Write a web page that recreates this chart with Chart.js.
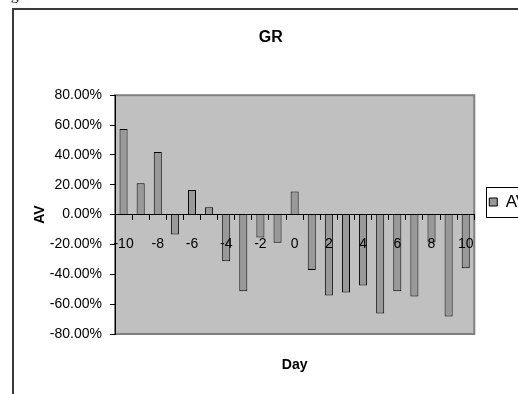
<!DOCTYPE html>
<html lang="en">
<head>
    <meta charset="UTF-8">
    <title>GR</title>
    <script src="https://cdn.jsdelivr.net/npm/chart.js"></script>
    <style>
        html, body { margin: 0; padding: 0; background: #fff; }
        body { width: 518px; height: 394px; overflow: hidden; position: relative; }
        .frame { position: absolute; left: 12px; top: 8px; width: 620px; height: 500px;
                 border-left: 2px solid #3a3a3a; border-top: 2px solid #3a3a3a; }
        .cut { position: absolute; left: 11px; top: -13px; font: 15px 'Liberation Serif', serif; }
        #grafico { position: absolute; left: 0; top: 0; }
    </style>
</head>
<body>
    <div class="cut">g</div>
    <div class="frame"></div>
    <canvas id="grafico" width="545" height="394"></canvas>
<script>
    // dias em torno do evento
    var days = ['-10', '-9', '-8', '-7', '-6', '-5', '-4', '-3', '-2', '-1', '0',
                '1', '2', '3', '4', '5', '6', '7', '8', '9', '10'];
    // AV em %
    var avValues = [57.3, 21.0, 42.0, -13.4, 16.5, 4.9, -31.2, -51.3, -15.4, -18.9, 15.4,
                    -37.2, -54.2, -52.2, -47.5, -66.2, -51.3, -54.8, -18.7, -68.2, -35.9];
    var yMin = -80, yMax = 80, yStep = 20;

    Chart.defaults.font.family = "'Liberation Sans', Arial, sans-serif";
    Chart.defaults.color = '#000';

    var plotBg = {
        id: 'plotBg',
        beforeDraw: function (chart) {
            var a = chart.chartArea, ctx = chart.ctx;
            ctx.save();
            ctx.fillStyle = '#c0c0c0';
            ctx.fillRect(a.left, a.top, a.right - a.left, a.bottom - a.top);
            ctx.strokeStyle = '#808080';
            ctx.lineWidth = 2;
            ctx.strokeRect(a.left, a.top, a.right - a.left, a.bottom - a.top);
            ctx.restore();
        },
        afterDraw: function (chart) {
            var hb = chart.legend.legendHitBoxes[0];
            if (!hb) return;
            var ctx = chart.ctx;
            var cy = hb.top + hb.height / 2;
            ctx.save();
            ctx.strokeStyle = '#000';
            ctx.lineWidth = 1;
            ctx.strokeRect(Math.round(hb.left - 3) + 0.5, Math.round(cy - 15) + 0.5, 120, 30);
            ctx.restore();
        }
    };

    new Chart(document.getElementById('grafico'), {
        type: 'bar',
        data: {
            labels: days,
            datasets: [{
                label: 'AV',
                data: avValues,
                backgroundColor: '#999999',
                borderColor: '#000',
                borderWidth: 1,
                barPercentage: 0.47,
                categoryPercentage: 1
            }]
        },
        options: {
            responsive: false,
            animation: false,
            devicePixelRatio: 1,
            layout: { padding: { left: 4.2, right: 7.8, top: 10, bottom: 0 } },
            scales: {
                x: {
                    position: { y: 0 },
                    offset: true,
                    grid: { display: true, drawOnChartArea: false, offset: true, color: '#000', tickLength: 5, z: 1 },
                    border: { color: '#000', width: 1, z: 1 },
                    ticks: {
                        z: 1,
                        autoSkip: false,
                        maxRotation: 0,
                        padding: 16.6,
                        font: { size: 14 },
                        callback: function (v, i) {
                            return Number(days[i]) % 2 === 0 ? days[i] : '';
                        }
                    }
                },
                y: {
                    min: yMin,
                    max: yMax,
                    afterFit: function (scale) { scale.width = 110.8; },
                    grid: { display: true, drawOnChartArea: false, color: '#000', tickLength: 5 },
                    border: { color: '#000', width: 1 },
                    ticks: {
                        stepSize: yStep,
                        padding: 8,
                        font: { size: 14 },
                        callback: function (v) { return v.toFixed(2) + '%'; }
                    },
                    title: {
                        display: true,
                        text: 'AV',
                        font: { size: 14, weight: 'bold' },
                        padding: { top: 27.4, bottom: 0 }
                    }
                }
            },
            plugins: {
                title: {
                    display: true,
                    text: 'GR',
                    font: { size: 16, weight: 'bold' },
                    padding: { top: 18, bottom: 48 }
                },
                subtitle: {
                    display: true,
                    text: 'Day',
                    position: 'bottom',
                    fullSize: false,
                    font: { size: 14, weight: 'bold' },
                    padding: { top: 22.6, bottom: 20.6 }
                },
                legend: {
                    position: 'right',
                    labels: {
                        boxWidth: 8,
                        boxHeight: 8,
                        padding: 15,
                        font: { size: 17 }
                    }
                },
                tooltip: { enabled: false }
            }
        },
        plugins: [plotBg]
    });
</script>
</body>
</html>
